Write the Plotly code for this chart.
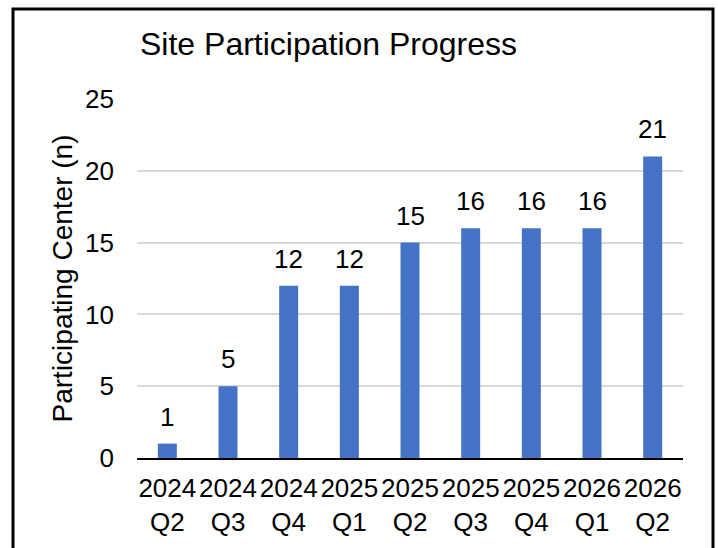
import plotly.graph_objects as go

quarters = ["2024<br>Q2", "2024<br>Q3", "2024<br>Q4", "2025<br>Q1", "2025<br>Q2",
            "2025<br>Q3", "2025<br>Q4", "2026<br>Q1", "2026<br>Q2"]
centers = [1, 5, 12, 12, 15, 16, 16, 16, 21]
y_ticks = [0, 5, 10, 15, 20, 25]

FONT = "Liberation Sans, Arial, sans-serif"

fig = go.Figure(go.Bar(
    x=quarters, y=centers,
    marker=dict(color="#4472C4", line=dict(width=0)),
    cliponaxis=False,
))

# data labels above bars
for q, v in zip(quarters, centers):
    fig.add_annotation(x=q, y=v, text=str(v), showarrow=False,
                       yanchor="middle", yshift=27,
                       font=dict(size=26, color="black", family=FONT))

W, H = 718, 548
L, R, T, B = 137, 35, 99, 90
pw, ph = W - L - R, H - T - B

def px_x(x):
    return (x - L) / pw

def px_y(y):
    return (H - B - y) / ph

fig.update_layout(
    width=W, height=H,
    margin=dict(l=L, r=R, t=T, b=B, pad=0, autoexpand=False),
    paper_bgcolor="white", plot_bgcolor="white",
    font=dict(family=FONT, size=26, color="black"),
    bargap=0.687,
    showlegend=False,
    title=dict(text="Site Participation Progress", x=140 / W, xanchor="left",
               xref="container", yref="container", y=1 - 44 / H, yanchor="middle",
               automargin=False,
               font=dict(size=32, color="black", family=FONT)),
    xaxis=dict(showline=True, linecolor="black", linewidth=2, ticks="",
               showgrid=False, tickfont=dict(size=26), fixedrange=True,
               ticklabelstandoff=6, automargin=False),
    yaxis=dict(range=[0, 25], tickvals=y_ticks, showgrid=True, gridcolor="#d9d9d9",
               gridwidth=2, zeroline=False, showline=False, ticks="",
               ticklabelstandoff=22, tickfont=dict(size=26), automargin=False,
               fixedrange=True,
               title=dict(text="Participating Center (n)", standoff=4,
                          font=dict(size=28))),
    shapes=[dict(type="rect", xref="paper", yref="paper",
                 x0=px_x(13), x1=px_x(713), y0=px_y(9), y1=px_y(565),
                 line=dict(color="black", width=3), fillcolor="rgba(0,0,0,0)",
                 layer="above")],
)

fig.write_html("out.html", config={"displayModeBar": False},
               post_script="document.body.style.margin='0';")
